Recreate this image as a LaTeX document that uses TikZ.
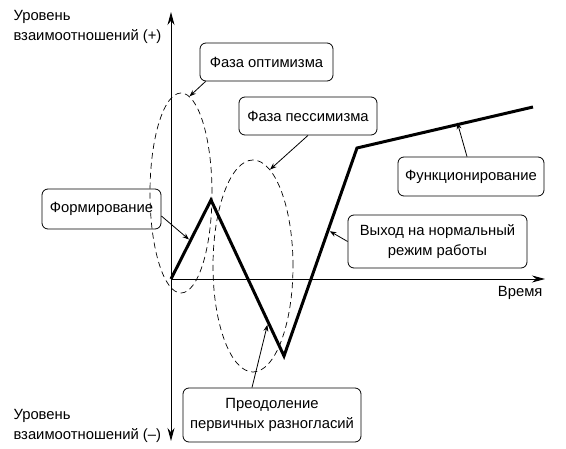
\documentclass[tikz,border=0pt]{standalone}
\usepackage{fontspec}
\setmainfont{Liberation Sans}
\usetikzlibrary{arrows.meta,calc,shapes.geometric,positioning}
\tikzset {
  >=Stealth,
  every node/.style={font=\fontsize{14.8}{20}\selectfont},
  phasebox/.style={draw, rounded corners=6pt, line width=0.8pt, align=center, inner sep=0pt},
  phaseoval/.style={draw, ellipse, dash pattern=on 6pt off 4pt, line width=0.7pt, inner sep=0pt},
  curve/.style={line width=3pt, line join=miter},
  pointer/.style={->, line width=0.8pt},
  axis/.style={line width=0.9pt},
}

\begin{document}
\begin{tikzpicture}[x=1pt,y=-1pt]
  \useasboundingbox (0,0) rectangle (566,449);
  \coordinate (o) at (171,279);
  \coordinate (ytop) at (171,12);
  \coordinate (ybot) at (171,441);
  \coordinate (xend) at (545,279);
  \coordinate (peak) at (211,200);
  \coordinate (trough) at (284,356);
  \coordinate (knee) at (357,148);
  \coordinate (tail) at (533,107);

  % axes
  \draw[axis,{Stealth[length=13pt,width=7pt]}-{Stealth[length=13pt,width=7pt]}] (ybot) -- (ytop);
  \draw[axis,-{Stealth[length=13pt,width=7pt]}] (o) -- (xend);
  \node[anchor=north west, align=left] (ypos) at (10,7) {Уровень\\взаимоотношений (+)};
  \node[anchor=south west, align=left] (yneg) at (10,446) {Уровень\\взаимоотношений (–)};
  \node[anchor=north east] (time) at (546,283) {Время};

  % phases
  \node[phaseoval, minimum width=62pt, minimum height=200pt] (optoval) at (181,193) {};
  \node[phaseoval, minimum width=80pt, minimum height=212pt] (pesoval) at (253,266) {};

  \draw[curve] (o) -- (peak) -- (trough) -- (knee) -- (tail);

  \node[phasebox, minimum width=133pt, minimum height=38pt] (opt) at (266.5,62) {Фаза оптимизма};
  \node[phasebox, minimum width=138pt, minimum height=38pt] (pes) at (308,116) {Фаза пессимизма};
  \node[phasebox, minimum width=119pt, minimum height=40pt] (form) at (101.5,209) {Формирование};
  \node[phasebox, minimum width=146pt, minimum height=39pt] (func) at (471,176.5) {Функционирование};
  \node[phasebox, minimum width=179pt, minimum height=53pt] (exit) at (437.5,241.5) {Выход на нормальный\\режим работы};
  \node[phasebox, minimum width=178pt, minimum height=54pt] (over) at (272,415) {Преодоление\\первичных разногласий};

  \draw[pointer] ([xshift=6pt]opt.south west) -- (optoval.85);
  \draw[pointer] (pes.south) -- (pesoval.80);
  \draw[pointer] ([yshift=-7pt]form.east) -- ([xshift=-2pt]$(o)!0.5!(peak)$);
  \draw[pointer] ([xshift=-4pt]func.north) -- ([yshift=2pt]$(knee)!0.57!(tail)$);
  \draw[pointer] (exit.west) -- ([xshift=2pt]$(trough)!0.6!(knee)$);
  \draw[pointer] ([xshift=-20pt]over.north) -- ([xshift=-2pt]$(peak)!0.8!(trough)$);
\end{tikzpicture}
\end{document}
